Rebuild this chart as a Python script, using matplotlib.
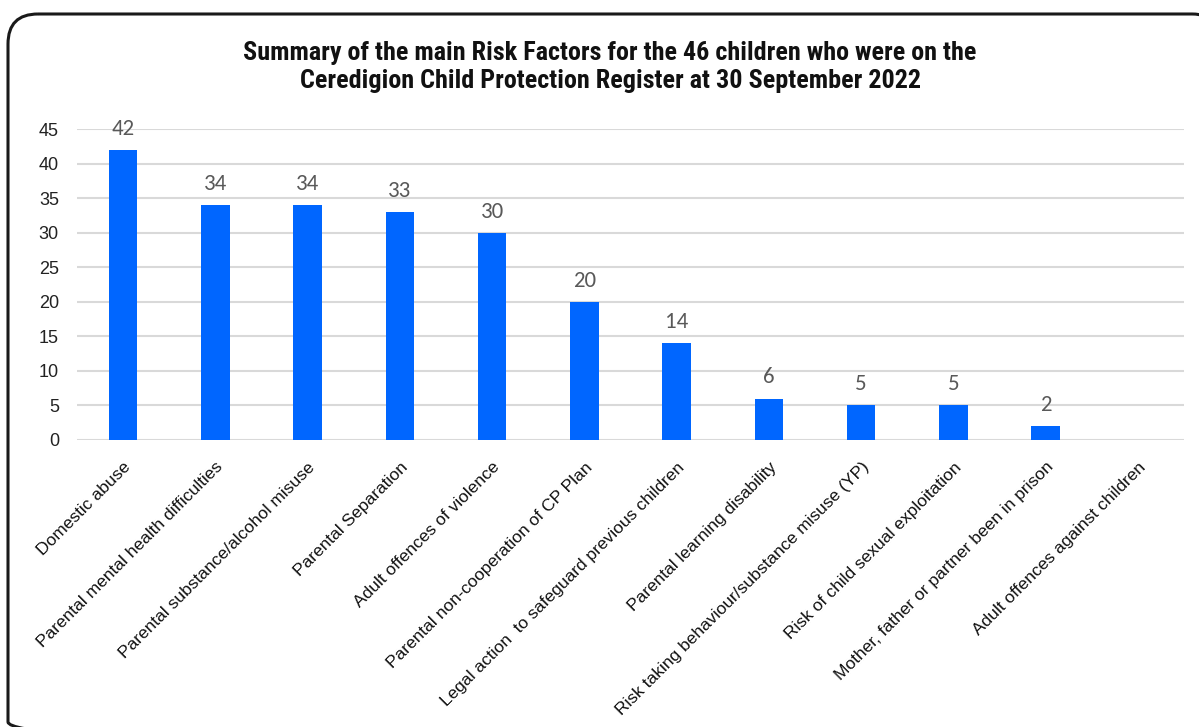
import matplotlib
matplotlib.use("Agg")
import matplotlib.pyplot as plt
from matplotlib.patches import FancyBboxPatch
from matplotlib import font_manager

categories = [
    "Domestic abuse",
    "Parental mental health difficulties",
    "Parental substance/alcohol misuse",
    "Parental Separation",
    "Adult offences of violence",
    "Parental non-cooperation of CP Plan",
    "Legal action  to safeguard previous children",
    "Parental learning disability",
    "Risk taking behaviour/substance misuse (YP)",
    "Risk of child sexual exploitation",
    "Mother, father or partner been in prison",
    "Adult offences against children",
]
values = [42, 34, 34, 33, 30, 20, 14, 6, 5, 5, 2, 0]
yticks = [0, 5, 10, 15, 20, 25, 30, 35, 40, 45]
title = ("Summary of the main Risk Factors for the 46 children who were on the\n"
         "Ceredigion Child Protection Register at 30 September 2022")

names = {f.name for f in font_manager.fontManager.ttflist}
narrow = [n for n in ["Liberation Sans Narrow", "Roboto Condensed", "Open Sans Condensed",
                      "DejaVu Sans Condensed"] if n in names]
title_family = (narrow[:1] if narrow else []) + ["Liberation Sans", "DejaVu Sans"]
body_family = ["Liberation Sans", "DejaVu Sans"]
label_family = ["Carlito", "Liberation Sans", "DejaVu Sans"] if "Carlito" in names else body_family

W, H = 1199, 727
fig = plt.figure(figsize=(W / 100, H / 100), dpi=100)
fig.patch.set_facecolor("white")

# rounded border drawn in pixel-like coordinates
bg = fig.add_axes([0, 0, 1, 1], zorder=-1)
bg.set_xlim(0, W)
bg.set_ylim(H, 0)
bg.axis("off")
bg.add_patch(FancyBboxPatch((8, 14), 1222 - 8, 752 - 14,
                            boxstyle="round,pad=0,rounding_size=30",
                            facecolor="none", edgecolor="#1a1a1a", linewidth=2.2))

ax = fig.add_axes([77 / W, 1 - 440 / H, (1184 - 77) / W, (440 - 129) / H])
ax.patch.set_alpha(0)
x = list(range(len(categories)))
ax.bar(x, values, width=0.31, color="#0066FF", zorder=3)
ax.set_xlim(-0.5, len(categories) - 0.5)
ax.set_ylim(0, 45)
ax.set_yticks(yticks)
ax.set_yticklabels([str(t) for t in yticks], family=body_family, fontsize=13, color="#222222")
ax.yaxis.grid(True, color="#D9D9D9", linewidth=1.5, zorder=0)
ax.set_axisbelow(True)
ax.tick_params(axis="y", length=0, pad=13)
ax.tick_params(axis="x", length=0, pad=14)
for s in ax.spines.values():
    s.set_visible(False)
ax.set_xticks(x)
ax.set_xticklabels(categories, rotation=45, ha="right", va="top",
                   rotation_mode="anchor", family=body_family, fontsize=12.5, color="#111111")

for xi, v in zip(x, values):
    if v > 0:
        ax.annotate(str(v), (xi, v), xytext=(0, 8), textcoords="offset points",
                    ha="center", va="bottom", fontsize=16.5, color="#595959",
                    family=label_family)

fig.text(610 / W, 1 - 67 / H, title, ha="center", va="center",
         fontsize=(18.8 if narrow and narrow[0] != "DejaVu Sans Condensed" else 15.5),
         fontweight="bold", family=title_family, color="#111111", linespacing=1.2)

fig.savefig("out.png", dpi=100)
